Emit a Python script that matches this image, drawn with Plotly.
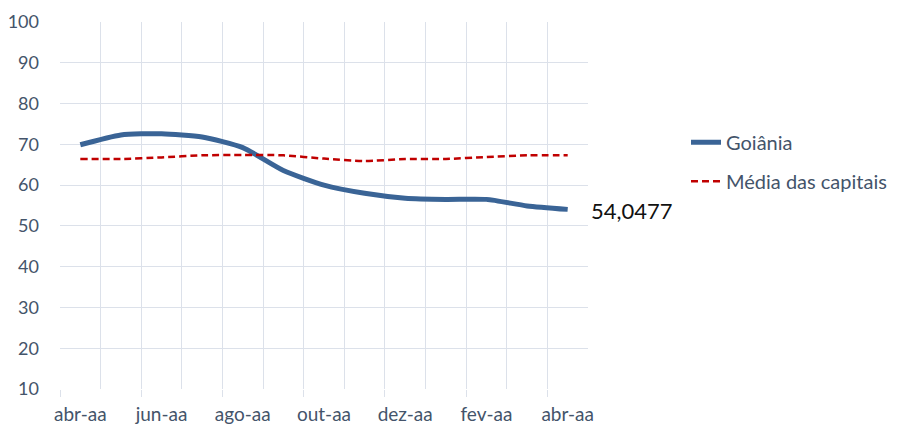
import plotly.graph_objects as go

months = ["abr-aa", "mai-aa", "jun-aa", "jul-aa", "ago-aa", "set-aa", "out-aa",
          "nov-aa", "dez-aa", "jan-aa", "fev-aa", "mar-aa", "abr-aa"]
goiania = [69.9, 72.3, 72.6, 71.8, 69.2, 63.6, 60.0, 58.0, 56.8, 56.5, 56.5, 54.9, 54.0477]
media = [66.4, 66.4, 66.8, 67.3, 67.4, 67.3, 66.5, 65.9, 66.4, 66.4, 66.9, 67.3, 67.3]
tick_idx = [0, 2, 4, 6, 8, 10, 12]
tick_labels = [months[i] for i in tick_idx]
yticks = list(range(10, 101, 10))
last_label = "54,0477"

x = list(range(len(months)))
txt = "#44546A"
grid = "#DCE1EA"
font = "Lato, Noto Sans, sans-serif"

fig = go.Figure()
fig.add_trace(go.Scatter(x=x, y=goiania, mode="lines", name="Goiânia",
                         legendgroup="a",
                         line=dict(color="#3A6496", width=5, shape="spline", smoothing=0.6)))
fig.add_trace(go.Scatter(x=x, y=media, mode="lines", name="Média das capitais",
                         legendgroup="b",
                         line=dict(color="#C00000", width=2.5, dash="7px,4px",
                                   shape="spline", smoothing=0.6)))
# invisible trace for the secondary tick axis
fig.add_trace(go.Scatter(x=[-0.5], y=[None], xaxis="x2", showlegend=False,
                         hoverinfo="skip", mode="lines"))

fig.add_annotation(x=x[-1], y=goiania[-1], text=last_label, showarrow=False,
                   xanchor="left", yanchor="middle", xshift=21, yshift=-1,
                   font=dict(family=font, size=22, color="#111111"))

fig.update_layout(
    width=897, height=425,
    margin=dict(l=52, r=317, t=14, b=44, autoexpand=False),
    paper_bgcolor="white", plot_bgcolor="white",
    font=dict(family=font, size=18, color=txt),
    xaxis=dict(range=[-0.5, 12.5], tickmode="array", tickvals=tick_idx,
               ticktext=tick_labels, showgrid=False, ticks="", zeroline=False,
               showline=False, ticklabelstandoff=12, automargin=False,
               tickfont=dict(size=19, color=txt),
               minor=dict(tick0=-0.5, dtick=1, showgrid=True, gridcolor=grid,
                          gridwidth=1.3, ticks="")),
    xaxis2=dict(overlaying="x", range=[-0.5, 12.5], tickmode="array",
                tickvals=[i - 0.5 for i in tick_idx], ticks="outside", ticklen=7,
                tickcolor=grid, tickwidth=1.3, showticklabels=False,
                showgrid=False, zeroline=False, side="bottom", anchor="y",
                automargin=False),
    yaxis=dict(range=[10, 100], tickmode="array", tickvals=yticks,
               showgrid=True, gridcolor=grid, gridwidth=1.3, zeroline=False,
               showline=False, ticks="", ticklabelstandoff=20, automargin=False,
               tickfont=dict(size=18, color=txt)),
    legend=dict(x=678 / 897, xref="container", y=0.638, yref="container",
                xanchor="left", yanchor="middle", font=dict(size=20, color=txt),
                tracegroupgap=10, bgcolor="rgba(0,0,0,0)"),
    showlegend=True,
)
fig.write_html("out.html")
